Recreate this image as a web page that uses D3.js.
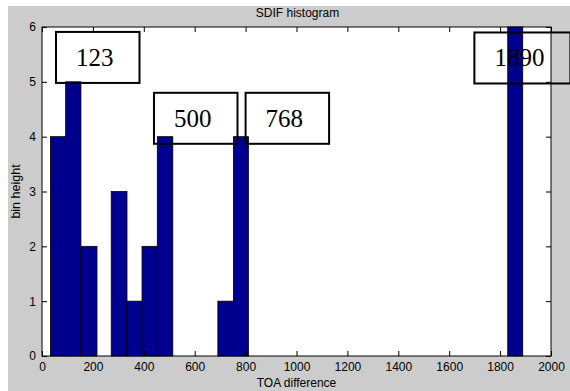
<!DOCTYPE html>
<html>
<head>
<meta charset="utf-8">
<script src="https://cdn.jsdelivr.net/npm/d3@7"></script>
<style>
  body { margin: 0; background: #fff; }
  svg text { font-family: "Liberation Sans", Arial, sans-serif; }
</style>
</head>
<body>
<div class="chartHolder"></div>
<script>
// histogram bins (TOA difference)
const binLeft = [33, 93, 153, 272, 334, 393, 453, 691, 752, 1830]
const binRight = [93, 153, 216, 334, 393, 453, 514, 752, 811, 1889]
const binHeight = [4, 5, 2, 3, 1, 2, 4, 1, 4, 6]

const xTicks = [0, 200, 400, 600, 800, 1000, 1200, 1400, 1600, 1800, 2000]
const yTicks = [0, 1, 2, 3, 4, 5, 6]

// text annotations (boxed labels)
const noteText = ['123', '500', '768', '1890']
const noteX = [55, 440, 800, 1699]
const noteY = [4.98, 3.87, 3.87, 4.97]

const W = 570, H = 391
const margin = { top: 27, right: 19, bottom: 35, left: 42 }
const width = W - margin.left - margin.right
const height = H - margin.top - margin.bottom

const svg = d3.select('.chartHolder').append('svg')
  .attr('width', W)
  .attr('height', H)

// figure background
svg.append('rect')
  .attr('x', 8).attr('y', 6)
  .attr('width', W - 8).attr('height', H - 6)
  .style('fill', '#cccccc')

const graph = svg.append('g')
  .attr('transform', `translate(${margin.left},${margin.top})`)

const xScale = d3.scaleLinear().domain([0, 2000]).range([0, width])
const yScale = d3.scaleLinear().domain([0, 6]).range([height, 0])

graph.append('rect')
  .attr('width', width).attr('height', height)
  .style('fill', '#fff')

graph.selectAll('rect.bar')
  .data(binHeight)
  .enter()
  .append('rect')
  .attr('class', 'bar')
  .attr('x', (d, i) => xScale(binLeft[i]))
  .attr('width', (d, i) => xScale(binRight[i]) - xScale(binLeft[i]))
  .attr('y', d => yScale(d))
  .attr('height', d => height - yScale(d))
  .style('fill', '#00008f')
  .style('stroke', '#000')
  .style('stroke-width', 0.8)

// axes with inward ticks (matlab style)
const fmt = d3.format('d')
const xAxis = d3.axisBottom(xScale).tickValues(xTicks).tickFormat(fmt).tickSize(-5).tickSizeOuter(0).tickPadding(6)
const yAxis = d3.axisLeft(yScale).tickValues(yTicks).tickFormat(fmt).tickSize(-5).tickSizeOuter(0).tickPadding(6)

graph.append('g').attr('transform', `translate(0,${height})`).call(xAxis)
graph.append('g').call(yAxis)
graph.append('g').call(d3.axisTop(xScale).tickValues(xTicks).tickSize(-5).tickSizeOuter(0).tickFormat(''))
graph.append('g').attr('transform', `translate(${width},0)`)
  .call(d3.axisRight(yScale).tickValues(yTicks).tickSize(-5).tickSizeOuter(0).tickFormat(''))

graph.selectAll('.domain').remove()
graph.selectAll('.tick line').style('stroke', '#000')
graph.selectAll('.tick text')
  .style('font-size', '12px')
  .style('fill', '#000')
  .style('font-family', '"Liberation Sans", Arial, sans-serif')

graph.append('rect')
  .attr('width', width).attr('height', height)
  .style('fill', 'none')
  .style('stroke', '#000')
  .style('stroke-width', 1)

// labels
svg.append('text')
  .attr('x', margin.left + width / 2 + 1).attr('y', 17)
  .attr('text-anchor', 'middle')
  .style('font-size', '12px')
  .text('SDIF histogram')
svg.append('text')
  .attr('x', margin.left + width / 2).attr('y', 387)
  .attr('text-anchor', 'middle')
  .style('font-size', '12px')
  .text('TOA difference')
svg.append('text')
  .attr('transform', `translate(20,${margin.top + height / 2}) rotate(-90)`)
  .attr('text-anchor', 'middle')
  .style('font-size', '12.5px')
  .text('bin height')

// boxed notes
const notes = graph.selectAll('g.note')
  .data(noteText)
  .enter()
  .append('g')
  .attr('class', 'note')
  .attr('transform', (d, i) => `translate(${xScale(noteX[i])},${yScale(noteY[i])})`)

notes.append('text')
  .attr('x', 20).attr('y', -17)
  .style('font-family', '"Liberation Serif", "Times New Roman", serif')
  .style('font-size', '25px')
  .style('fill', '#000')
  .text(d => d)

notes.each(function() {
  const g = d3.select(this)
  const tw = g.select('text').node().getComputedTextLength()
  g.insert('rect', 'text')
    .attr('x', 0).attr('y', -51)
    .attr('width', tw + 46).attr('height', 51)
    .style('fill', 'none')
    .style('stroke', '#000')
    .style('stroke-width', 2)
})
</script>
</body>
</html>
